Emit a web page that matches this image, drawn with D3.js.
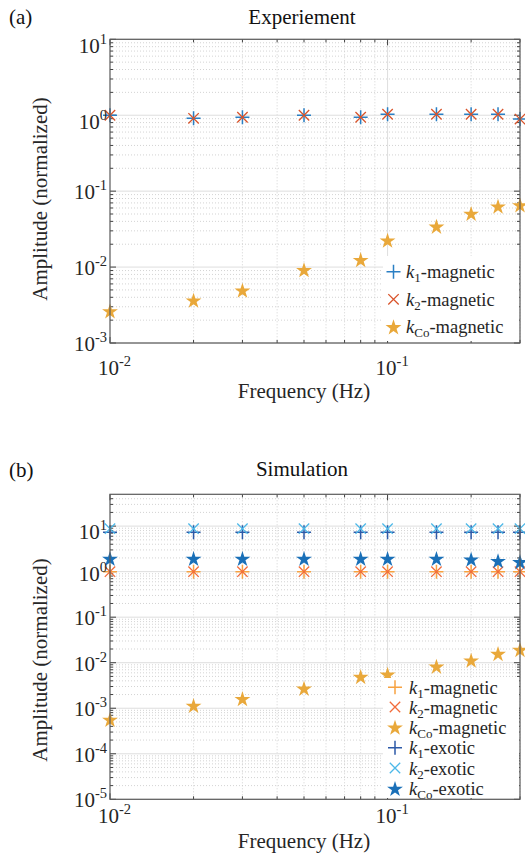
<!DOCTYPE html>
<html><head><meta charset="utf-8">
<script src="https://cdn.jsdelivr.net/npm/d3@7"></script>
<style>
html,body{margin:0;padding:0;background:#fff;}
svg{display:block;}
svg text{font-family:'Liberation Serif','Times New Roman','DejaVu Serif',serif;}
</style></head>
<body><svg id="c" width="525" height="860" font-family="Liberation Serif, Times New Roman, DejaVu Serif, serif"></svg>
<script>
// ---------- data ----------
const freq = [0.01, 0.02, 0.03, 0.05, 0.08, 0.1, 0.15, 0.2, 0.25, 0.3];
// (a) Experiment
const expK1Mag = [1.0, 0.91, 0.94, 1.0, 0.94, 1.03, 1.03, 1.03, 1.03, 0.89];
const expK2Mag = [1.0, 0.91, 0.94, 1.0, 0.94, 1.03, 1.03, 1.03, 1.03, 0.89];
const expKCoMag = [0.00266, 0.00368, 0.00497, 0.0093, 0.0126, 0.0227, 0.0346, 0.051, 0.0635, 0.066];
// (b) Simulation
const simK1Mag = [1.0, 1.0, 1.0, 1.0, 1.0, 1.0, 1.0, 1.0, 1.0, 1.0];
const simK2Mag = [1.0, 1.0, 1.0, 1.0, 1.0, 1.0, 1.0, 1.0, 1.0, 1.0];
const simKCoMag = [0.00057, 0.00116, 0.00164, 0.00276, 0.0050, 0.0056, 0.0084, 0.0114, 0.016, 0.0196];
const simK1Exo = [7.3, 7.3, 7.3, 7.3, 7.3, 7.3, 7.3, 7.3, 7.3, 7.3];
const simK2Exo = [8.8, 8.8, 8.8, 8.8, 8.8, 8.8, 8.8, 8.8, 8.8, 8.8];
const simKCoExo = [1.97, 1.97, 1.97, 1.97, 1.97, 1.97, 1.97, 1.9, 1.75, 1.66];

const xTickExps = [-2, -1];
const yTickExpsA = [-3, -2, -1, 0, 1];
const yTickExpsB = [-5, -4, -3, -2, -1, 0, 1];

const FONT = "'Liberation Serif','Times New Roman','DejaVu Serif',serif";
const svg = d3.select("#c");

function markerPath(type, s) {
  if (type === "plus") return `M${-s},0H${s}M0,${-s}V${s}`;
  if (type === "x") return `M${-s},${-s}L${s},${s}M${-s},${s}L${s},${-s}`;
  return null;
}

function drawMarker(g, type, color, x, y) {
  if (type === "star") {
    g.append("path").attr("d", d3.symbol(d3.symbolStar, 78)())
      .attr("transform", `translate(${x},${y + 1})`).attr("fill", color).attr("stroke", "none");
  } else {
    const s = type === "plus" ? 7 : 5.2;
    g.append("path").attr("d", markerPath(type, s))
      .attr("transform", `translate(${x},${y})`).attr("fill", "none")
      .attr("stroke", color).attr("stroke-width", type === "plus" ? 1.5 : 1.3);
  }
}

function txt(g) { return g.append("text").style("font-family", FONT); }

function pow10Label(g, x, y, exp, anchor) {
  const t = txt(g).attr("font-size", 21).attr("fill", "#262626");
  t.append("tspan").text("10");
  t.append("tspan").attr("font-size", 14.5).attr("dy", -9).text(exp < 0 ? "-" + (-exp) : String(exp));
  t.attr("x", x).attr("y", y).attr("text-anchor", anchor === "end" ? "end" : "start");
  return t;
}

function drawPanel(cfg) {
  const { top, bottom, left, right, ymin, ymax, yExps, series, title, tag, tagY, titleY, ylabelY, xlabelY, xtickY, legend, labOff } = cfg;
  const g = svg.append("g");
  const x = d3.scaleLog().domain([0.01, 0.3]).range([left, right]);
  const y = d3.scaleLog().domain([ymin, ymax]).range([bottom, top]);

  const xMinor = [];
  for (const dec of [0.01, 0.1]) for (let k = 2; k <= 9; k++) { const v = dec * k; if (v <= 0.3 + 1e-9) xMinor.push(v); }
  const yMinor = [];
  const yMajor = [];
  for (let e = Math.floor(Math.log10(ymin)); e <= Math.ceil(Math.log10(ymax)); e++) {
    const dec = Math.pow(10, e);
    if (dec >= ymin && dec <= ymax) yMajor.push(dec);
    for (let k = 2; k <= 9; k++) { const v = dec * k; if (v > ymin && v < ymax) yMinor.push(v); }
  }
  const grid = g.append("g");
  grid.selectAll(".xm").data(xMinor).join("line")
    .attr("x1", d => x(d)).attr("x2", d => x(d)).attr("y1", top).attr("y2", bottom)
    .attr("stroke", "#c8c8c8").attr("stroke-width", 0.8).attr("stroke-dasharray", "1,2");
  grid.selectAll(".ym").data(yMinor).join("line")
    .attr("x1", left).attr("x2", right).attr("y1", d => y(d)).attr("y2", d => y(d))
    .attr("stroke", "#c8c8c8").attr("stroke-width", 0.8).attr("stroke-dasharray", "1,2");
  grid.selectAll(".xM").data([0.1]).join("line")
    .attr("x1", d => x(d)).attr("x2", d => x(d)).attr("y1", top).attr("y2", bottom)
    .attr("stroke", "#dedede").attr("stroke-width", 1);
  grid.selectAll(".yM").data(yMajor).join("line")
    .attr("x1", left).attr("x2", right).attr("y1", d => y(d)).attr("y2", d => y(d))
    .attr("stroke", "#dedede").attr("stroke-width", 1);

  const tk = g.append("g").attr("stroke", "#404040").attr("stroke-width", 1);
  const xMaj = xTickExps.map(e => Math.pow(10, e));
  xMinor.forEach(v => {
    tk.append("line").attr("x1", x(v)).attr("x2", x(v)).attr("y1", bottom).attr("y2", bottom - 3);
    tk.append("line").attr("x1", x(v)).attr("x2", x(v)).attr("y1", top).attr("y2", top + 3);
  });
  xMaj.forEach(v => {
    tk.append("line").attr("x1", x(v)).attr("x2", x(v)).attr("y1", bottom).attr("y2", bottom - 6);
    tk.append("line").attr("x1", x(v)).attr("x2", x(v)).attr("y1", top).attr("y2", top + 6);
  });
  yMinor.forEach(v => {
    tk.append("line").attr("x1", left).attr("x2", left + 3).attr("y1", y(v)).attr("y2", y(v));
    tk.append("line").attr("x1", right).attr("x2", right - 3).attr("y1", y(v)).attr("y2", y(v));
  });
  yMajor.forEach(v => {
    tk.append("line").attr("x1", left).attr("x2", left + 6).attr("y1", y(v)).attr("y2", y(v));
    tk.append("line").attr("x1", right).attr("x2", right - 6).attr("y1", y(v)).attr("y2", y(v));
  });

  const marks = g.append("g");
  series.forEach(s => {
    s.values.forEach((v, i) => drawMarker(marks, s.type, s.color, x(freq[i]), y(v)));
  });

  g.append("rect").attr("x", left).attr("y", top).attr("width", right - left).attr("height", bottom - top)
    .attr("fill", "none").attr("stroke", "#5a5a5a").attr("stroke-width", 1.2);

  xTickExps.forEach(e => pow10Label(g, x(Math.pow(10, e)) - 12, xtickY, e, "start"));
  yExps.forEach(e => {
    const v = Math.pow(10, e);
    if (v < ymin || v > ymax) return;
    const off = labOff[e] !== undefined ? labOff[e] : 8;
    pow10Label(g, left - 3, y(v) + off, e, "end");
  });

  txt(g).attr("x", 302).attr("y", titleY).attr("text-anchor", "middle")
    .attr("font-size", 21).attr("fill", "#111").text(title);
  txt(g).attr("x", 9).attr("y", tagY).attr("font-size", 21).attr("fill", "#111").text(tag);
  txt(g).attr("x", 304).attr("y", xlabelY).attr("text-anchor", "middle")
    .attr("font-size", 21).attr("fill", "#262626").text("Frequency (Hz)");
  txt(g).attr("transform", `translate(47,${ylabelY}) rotate(-90)`).attr("text-anchor", "middle")
    .attr("font-size", 21).attr("fill", "#262626").text("Amplitude (normalized)");

  const lg = g.append("g");
  lg.append("rect").attr("x", legend.x0).attr("y", legend.y0).attr("width", legend.x1 - legend.x0)
    .attr("height", legend.y1 - legend.y0).attr("fill", "#fff");
  series.forEach((s, i) => {
    const ry = legend.rows[i];
    drawMarker(lg, s.type, s.color, legend.mx, ry);
    const t = txt(lg).attr("x", legend.tx).attr("y", ry + 6.5).attr("font-size", 18.5).attr("fill", "#262626");
    t.append("tspan").attr("font-style", "italic").text("k");
    t.append("tspan").attr("font-size", 13).attr("dy", 4).text(s.sub);
    t.append("tspan").attr("dy", -4).text(s.name);
  });
}

const cBlue = "#2a7fc4", cRed = "#d9532a", cGold = "#e9a83a";
drawPanel({
  top: 39.3, bottom: 343, left: 110, right: 520, ymin: 1e-3, ymax: 10, yExps: yTickExpsA,
  title: "Experiement", tag: "(a)", tagY: 24, titleY: 24, ylabelY: 199, xlabelY: 398, xtickY: 375,
  labOff: { "1": 14, "0": 14 },
  series: [
    { values: expK1Mag, type: "plus", color: cBlue, sub: "1", name: "-magnetic" },
    { values: expK2Mag, type: "x", color: cRed, sub: "2", name: "-magnetic" },
    { values: expKCoMag, type: "star", color: cGold, sub: "Co", name: "-magnetic" }
  ],
  legend: { x0: 383, x1: 519, y0: 256, y1: 341, mx: 393.5, tx: 406, rows: [271.7, 299.3, 326.7] }
});

drawPanel({
  top: 494.3, bottom: 799.3, left: 110, right: 520, ymin: 1e-5, ymax: 50, yExps: yTickExpsB,
  title: "Simulation", tag: "(b)", tagY: 476.5, titleY: 476, ylabelY: 660, xlabelY: 848, xtickY: 823,
  labOff: { "1": 13, "0": 9 },
  series: [
    { values: simK1Mag, type: "plus", color: "#f7a241", sub: "1", name: "-magnetic" },
    { values: simK2Mag, type: "x", color: "#f26b3a", sub: "2", name: "-magnetic" },
    { values: simKCoMag, type: "star", color: cGold, sub: "Co", name: "-magnetic" },
    { values: simK1Exo, type: "plus", color: "#2d5aa8", sub: "1", name: "-exotic" },
    { values: simK2Exo, type: "x", color: "#4cb8e8", sub: "2", name: "-exotic" },
    { values: simKCoExo, type: "star", color: "#1a70b8", sub: "Co", name: "-exotic" }
  ],
  legend: { x0: 383, x1: 519, y0: 678, y1: 798, mx: 395, tx: 409, rows: [687.3, 707, 727, 747.7, 768, 788.3] }
});
</script>
</body></html>
